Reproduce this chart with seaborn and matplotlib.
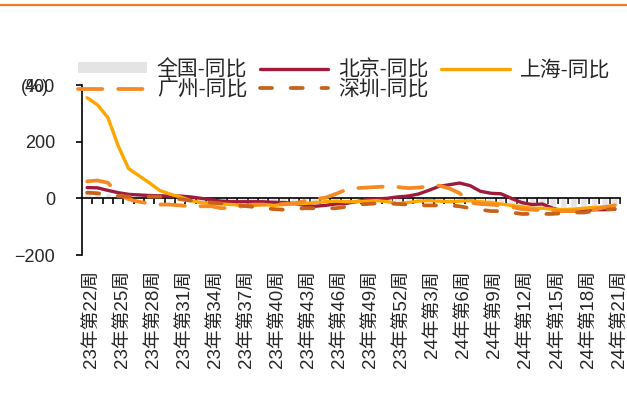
import numpy as np
import pandas as pd
import matplotlib
matplotlib.use("Agg")
import matplotlib.pyplot as plt
from matplotlib.lines import Line2D
from matplotlib.patches import Patch
import seaborn as sns

# Weekly labels: 2023 week 22 .. 2024 week 21
weeks = [f"23年第{w}周" for w in range(22, 53)] + [f"24年第{w}周" for w in range(1, 22)]

# Year-on-year change (%)
national = [28, 26, 18, 10, 6, 3, 0, -4, -6, -8, -12, -15, -16, -18, -18, -18, -17, -17,
            -18, -18, -18, -16, -12, -10, -8, -6, -5, -6, -6, -8, -10, -10, -8, -6, -5,
            -8, -10, -15, -18, -22, -25, -28, -30, -32, -32, -33, -33, -32, -30, -30, -28, -26]
beijing = [38, 37, 28, 20, 14, 12, 10, 9, 8, 8, 5, 0, -5, -10, -12, -12, -12, -12, -14,
           -15, -18, -25, -28, -25, -20, -18, -12, -5, -2, 0, 5, 8, 15, 28, 42, 48, 54,
           45, 25, 18, 16, 0, -15, -22, -20, -35, -45, -45, -42, -40, -40, -38]
shanghai = [355, 330, 285, 185, 105, 80, 55, 28, 15, 5, -8, -15, -18, -20, -22, -25, -25,
            -22, -25, -22, -20, -18, -15, -12, -10, -12, -12, -10, -8, -12, -18, -15, -10,
            -8, -10, -12, -10, -8, -12, -15, -20, -25, -30, -35, -35, -38, -40, -38, -35,
            -32, -30, -25]
guangzhou = [60, 63, 55, 15, -3, -12, -18, -22, -22, -25, -28, -28, -28, -35, -32, -28,
             -22, -22, -22, -20, -18, -10, -2, 2, 15, 30, 36, 38, 40, 42, 40, 36, 38, 42,
             45, 35, 18, -15, -20, -22, -25, -30, -38, -40, -42, -45, -45, -45, -42, -40,
             -32, -25]
shenzhen = [20, 18, 12, 8, 6, 6, 6, 6, 2, -3, -8, -12, -15, -18, -22, -26, -30, -34, -38,
            -40, -38, -35, -35, -35, -35, -30, -22, -20, -18, -18, -20, -22, -25, -25, -25,
            -25, -28, -35, -40, -45, -45, -50, -55, -55, -55, -55, -52, -50, -50, -45, -40,
            -38]

series_names = ["全国-同比", "北京-同比", "上海-同比", "广州-同比", "深圳-同比"]
y_ticks = [-200, 0, 200, 400]

idx = np.arange(len(weeks))
df = pd.DataFrame({"pos": idx, "week": weeks, "national": national, "beijing": beijing,
                   "shanghai": shanghai, "guangzhou": guangzhou, "shenzhen": shenzhen})

sns.set_style("white")
cjk = ["Liberation Sans", "Noto Sans CJK SC"]
plt.rcParams["font.family"] = cjk
plt.rcParams["axes.unicode_minus"] = True

W, H, DPI = 627, 419, 100
fig = plt.figure(figsize=(W / DPI, H / DPI), dpi=DPI)
ax = fig.add_axes([82 / W, 1 - 255 / H, (620 - 82) / W, (255 - 85) / H])

c_nat = "#E4E4E4"
c_bj = "#9E1B3C"
c_sh = "#FFA500"
c_gz = "#F58A23"
c_sz = "#C8621B"
gz_dash = (0, (6.5, 4.2))
sz_dash = (0, (3.2, 5.0))

sns.barplot(data=df, x="pos", y="national", color=c_nat, saturation=1, width=0.65,
            native_scale=True, ax=ax, zorder=1)
sns.lineplot(data=df, x="pos", y="beijing", color=c_bj, lw=2.4, ax=ax, zorder=3,
             solid_capstyle="round")
sns.lineplot(data=df, x="pos", y="shanghai", color=c_sh, lw=2.4, ax=ax, zorder=4,
             solid_capstyle="round")
sns.lineplot(data=df, x="pos", y="guangzhou", color=c_gz, lw=2.7, ax=ax, zorder=5,
             linestyle=gz_dash, dash_capstyle="round")
sns.lineplot(data=df, x="pos", y="shenzhen", color=c_sz, lw=2.7, ax=ax, zorder=6,
             linestyle=sz_dash, dash_capstyle="round")

ax.set_xlim(-0.5, len(weeks) - 0.5)
ax.set_ylim(-200, 400)
ax.set_xlabel("")
ax.set_ylabel("")

# Category axis running along zero, ticks between weeks
for s in ["top", "right"]:
    ax.spines[s].set_visible(False)
ax.spines["bottom"].set_position(("data", 0))
ax.spines["bottom"].set_linewidth(1.2)
ax.spines["left"].set_linewidth(1.2)
ax.spines["bottom"].set_color("black")
ax.spines["left"].set_color("black")
ax.spines["bottom"].set_zorder(2)
ax.set_xticks(np.arange(len(weeks)) + 0.5)
ax.set_xticklabels([])
ax.tick_params(axis="x", bottom=True, direction="out", length=4.5, width=1.2,
               color="black")
ax.set_yticks(y_ticks)
ax.tick_params(axis="y", left=True, direction="out", length=4.5, width=1.2,
               color="black", pad=15, labelsize=13)

# Week labels along the bottom edge
sec = ax.secondary_xaxis("bottom")
sec.set_xticks(idx[::3] + 0.4, labels=[weeks[i] for i in idx[::3]], rotation=90)
sec.tick_params(length=0, pad=11, labelsize=13.5)
sec.spines["bottom"].set_visible(False)

fig.text(21 / W, 1 - 88 / H, "(%)", fontsize=13, ha="left", va="center")

handles = [Patch(facecolor=c_nat, edgecolor="none"),
           Line2D([], [], color=c_gz, lw=2.7, linestyle=gz_dash, dash_capstyle="round"),
           Line2D([], [], color=c_bj, lw=2.4),
           Line2D([], [], color=c_sz, lw=2.7, linestyle=sz_dash, dash_capstyle="round"),
           Line2D([], [], color=c_sh, lw=2.4)]
labels = [series_names[0], series_names[3], series_names[1], series_names[4], series_names[2]]
fig.legend(handles, labels, ncol=3, loc="upper left", bbox_to_anchor=(78 / W, 1 - 59 / H),
           frameon=False, fontsize=15, handlelength=3.3, handleheight=0.45,
           handletextpad=0.48, columnspacing=0.6, labelspacing=0.0, borderpad=0,
           borderaxespad=0)

fig.add_artist(Line2D([0, 1], [1 - 5 / H, 1 - 5 / H], color="#EE7B22", lw=1.6,
                      transform=fig.transFigure))

fig.savefig("out.png", dpi=DPI)
